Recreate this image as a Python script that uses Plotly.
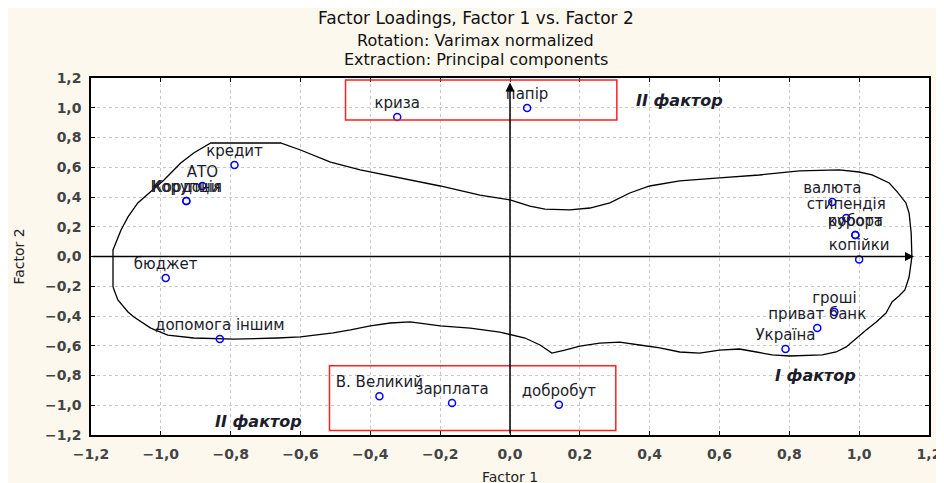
import plotly.graph_objects as go

# ---- data ----
labels = ["криза", "папір", "кредит", "АТО", "Корупція", "Кордони", "бюджет",
          "допомога іншим", "В. Великий", "зарплата", "добробут", "валюта",
          "стипендія", "курорт", "робота", "копійки", "гроші", "приват банк", "Україна"]
factor1 = [-0.323, 0.049, -0.789, -0.881, -0.927, -0.927, -0.986,
           -0.831, -0.374, -0.166, 0.140, 0.923,
           0.963, 0.989, 0.989, 1.000, 0.929, 0.880, 0.789]
factor2 = [0.938, 0.998, 0.615, 0.474, 0.373, 0.373, -0.145,
           -0.555, -0.940, -0.985, -0.997, 0.366,
           0.259, 0.145, 0.145, -0.020, -0.373, -0.480, -0.622]

tick_vals = [-1.2, -1.0, -0.8, -0.6, -0.4, -0.2, 0.0, 0.2, 0.4, 0.6, 0.8, 1.0, 1.2]

title_lines = ["Factor Loadings, Factor 1 vs. Factor 2",
               "Rotation: Varimax normalized",
               "Extraction: Principal components"]

# hand-drawn outline (data units)
outline_x = [-1.137, -1.137, -1.114, -1.094, -1.066, -1.029, -0.991, -0.943, -0.906, -0.857,
             -0.657, -0.600, -0.514, -0.429, -0.314, -0.200, -0.086, 0.000, 0.057, 0.100,
             0.171, 0.229, 0.286, 0.343, 0.400, 0.486, 0.600, 0.714, 0.829, 0.943,
             1.000, 1.037, 1.086, 1.109, 1.134, 1.143, 1.149, 1.151, 1.143, 1.131,
             1.114, 1.094, 1.077, 1.049, 1.020, 0.986, 0.963, 0.934, 0.894, 0.800,
             0.751, 0.706, 0.657, 0.600, 0.543, 0.486, 0.429, 0.371, 0.314, 0.257,
             0.200, 0.157, 0.120, 0.086, 0.043, -0.029, -0.114, -0.200, -0.286, -0.343,
             -0.400, -0.457, -0.506, -0.600, -0.666, -0.791, -0.906, -0.980, -1.029, -1.077,
             -1.094, -1.123, -1.137]
outline_y = [-0.205, 0.044, 0.178, 0.266, 0.360, 0.434, 0.514, 0.629, 0.696, 0.763,
             0.763, 0.716, 0.635, 0.582, 0.528, 0.474, 0.413, 0.380, 0.339, 0.319,
             0.313, 0.326, 0.360, 0.427, 0.474, 0.508, 0.528, 0.548, 0.575, 0.582,
             0.568, 0.548, 0.494, 0.434, 0.360, 0.292, 0.158, -0.003, -0.138, -0.225,
             -0.266, -0.306, -0.380, -0.440, -0.494, -0.561, -0.608, -0.642, -0.662, -0.669,
             -0.662, -0.642, -0.622, -0.629, -0.649, -0.642, -0.615, -0.595, -0.575, -0.582,
             -0.602, -0.629, -0.649, -0.595, -0.548, -0.508, -0.481, -0.467, -0.440, -0.447,
             -0.467, -0.494, -0.514, -0.541, -0.548, -0.555, -0.548, -0.528, -0.481, -0.407,
             -0.373, -0.292, -0.205]

# boxes and factor notes
box_top = dict(x0=-0.471, x1=0.306, y0=0.918, y1=1.187)
box_bottom = dict(x0=-0.517, x1=0.303, y0=-1.17, y1=-0.735)
notes = [("II фактор", 0.486, 1.05), ("II фактор", -0.72, -1.11), ("I фактор", 0.874, -0.80)]

FONT = "DejaVu Sans, sans-serif"
TXT = "#1c1c2c"

fig = go.Figure()
fig.add_trace(go.Scatter(x=outline_x, y=outline_y, mode="lines",
                         line=dict(color="black", width=1.3), hoverinfo="skip",
                         showlegend=False))
fig.add_trace(go.Scatter(x=factor1, y=factor2, mode="markers+text", text=labels,
                         textposition="top center",
                         textfont=dict(family=FONT, size=15, color=TXT),
                         marker=dict(symbol="circle-open", size=7, color="blue",
                                     line=dict(width=1.5, color="blue")),
                         showlegend=False))

for b in (box_top, box_bottom):
    fig.add_shape(type="rect", xref="x", yref="y", line=dict(color="#ff2020", width=1.5),
                  **b)

for txt, nx, ny in notes:
    fig.add_annotation(x=nx, y=ny, text=f"<b><i>{txt}</i></b>", showarrow=False,
                       font=dict(family=FONT, size=16, color=TXT))

# axis arrows
fig.add_annotation(x=1.157, y=0, ax=-1.2, ay=0, xref="x", yref="y", axref="x", ayref="y",
                   text="", showarrow=True, arrowhead=2, arrowsize=1.2, arrowwidth=1.5,
                   arrowcolor="black")
fig.add_annotation(x=0, y=1.17, ax=0, ay=-1.2, xref="x", yref="y", axref="x", ayref="y",
                   text="", showarrow=True, arrowhead=2, arrowsize=1.2, arrowwidth=1.5,
                   arrowcolor="black")

# title lines
for txt, py, fs in zip(title_lines, [1.168, 1.104, 1.053], [17, 16, 16]):
    fig.add_annotation(x=0.459, y=py, xref="paper", yref="paper", text=txt,
                       showarrow=False, xanchor="center", yanchor="middle",
                       font=dict(family=FONT, size=fs, color="#111111"))

# axis titles
fig.add_annotation(x=0.5, y=-0.118, xref="paper", yref="paper", text="Factor 1",
                   showarrow=False, xanchor="center", yanchor="middle",
                   font=dict(family=FONT, size=14, color="#222222"))
fig.add_annotation(x=-0.087, y=0.5, xref="paper", yref="paper", text="Factor 2",
                   showarrow=False, xanchor="center", yanchor="middle", textangle=-90,
                   font=dict(family=FONT, size=14, color="#222222"))

axis_common = dict(range=[-1.2, 1.2], tickvals=tick_vals, tickformat=".1f",
                   showgrid=True, gridcolor="#c8c8c8", griddash="dot", gridwidth=1,
                   zeroline=False, showline=True, linecolor="black", linewidth=1.5,
                   mirror="ticks", ticks="inside", ticklen=4, tickcolor="black",
                   automargin=False, ticklabelstandoff=5,
                   tickfont=dict(family=FONT, size=14, color="#444444", weight="bold"))

fig.update_layout(
    width=944, height=483,
    margin=dict(l=83, r=23, t=70, b=56),
    paper_bgcolor="#fdf8ee", plot_bgcolor="white",
    separators=", ",
    xaxis=axis_common,
    yaxis=axis_common,
)

fig.write_html("out.html")
